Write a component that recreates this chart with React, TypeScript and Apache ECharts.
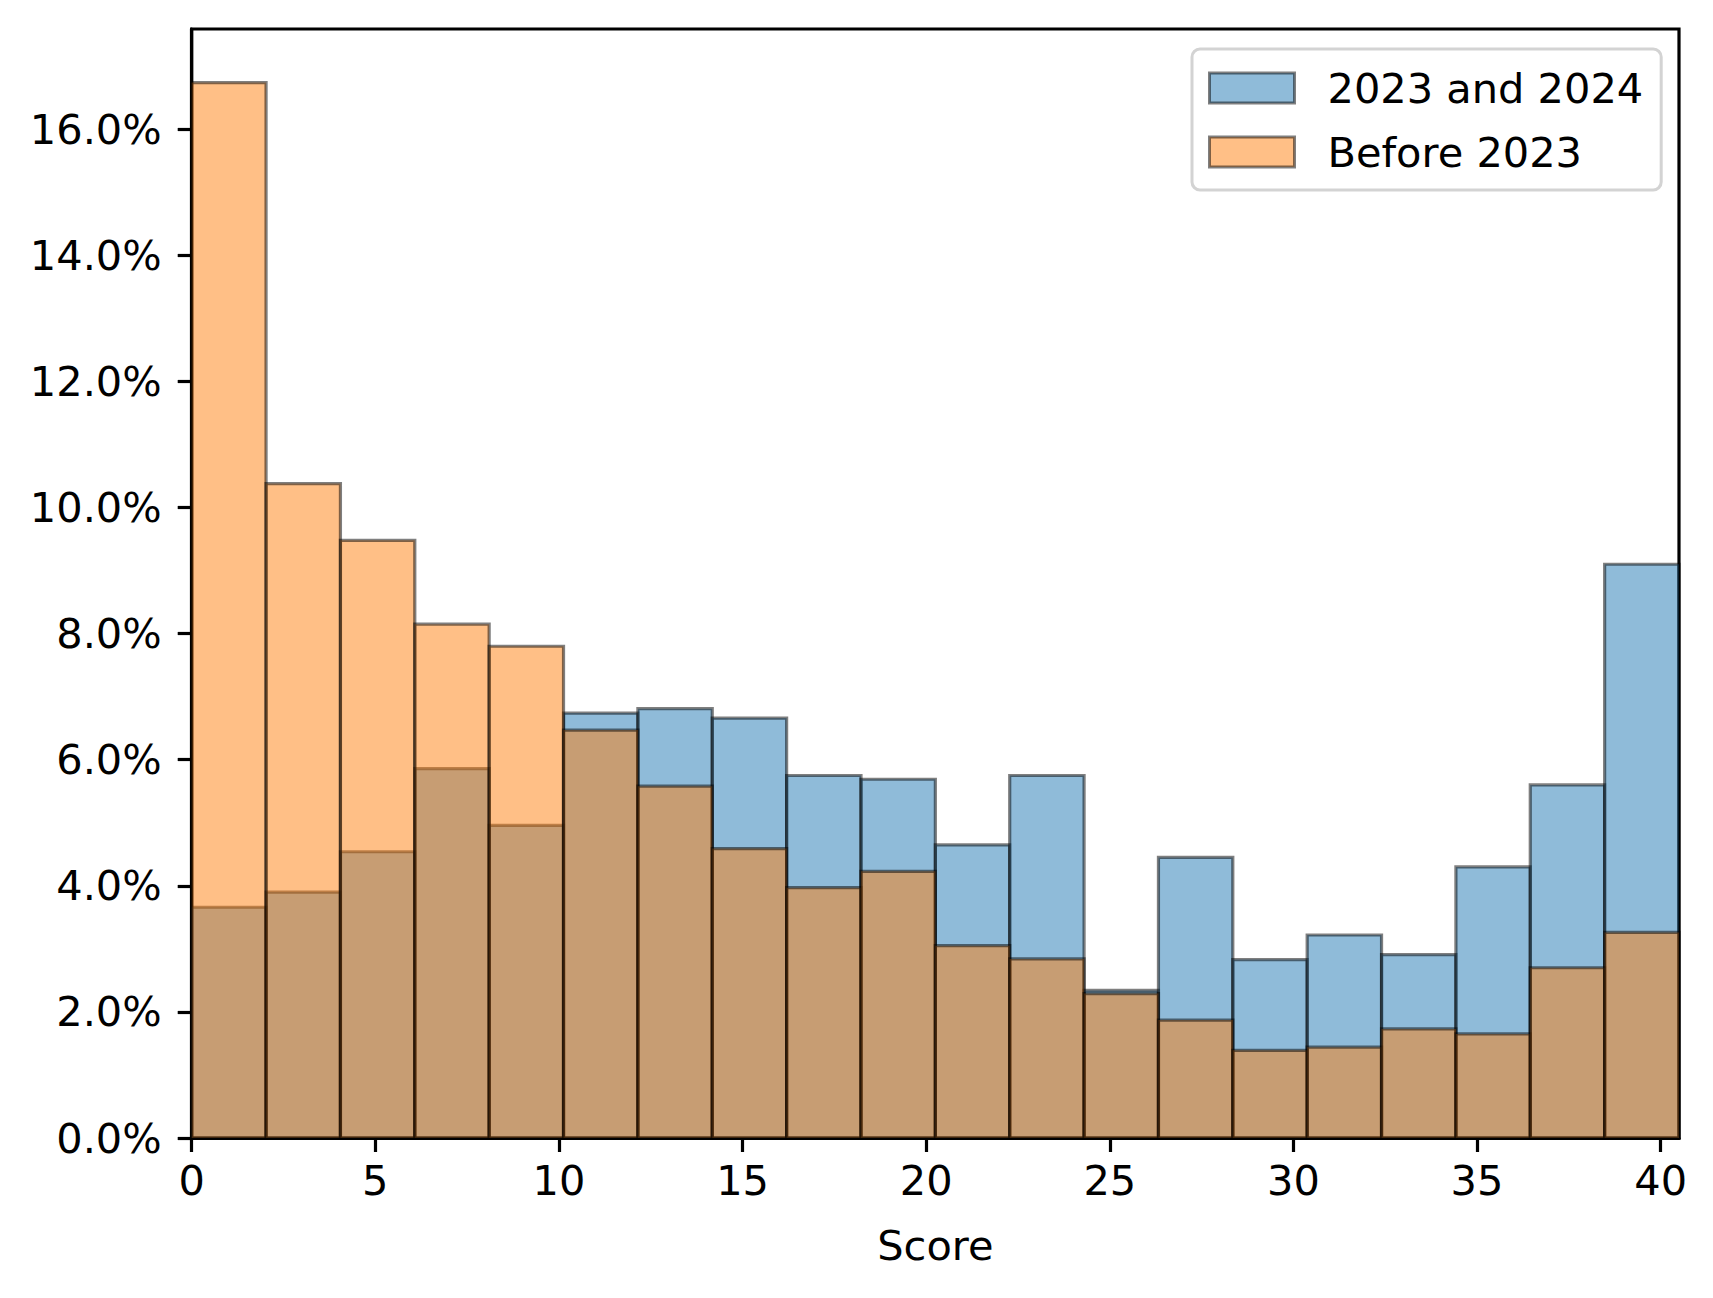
import React, { useEffect, useRef } from "react";
import * as echarts from "echarts";

const binEdges = [0, 2.025, 4.05, 6.075, 8.1, 10.125, 12.15, 14.175, 16.2, 18.225, 20.25, 22.275, 24.3, 26.325, 28.35, 30.375, 32.4, 34.425, 36.45, 38.475, 40.5];
const recentPct = [3.66, 3.9, 4.54, 5.86, 4.96, 6.74, 6.81, 6.66, 5.75, 5.69, 4.65, 5.75, 2.34, 4.45, 2.83, 3.22, 2.91, 4.3, 5.6, 9.1];
const beforePct = [16.74, 10.38, 9.48, 8.15, 7.8, 6.47, 5.58, 4.59, 3.97, 4.23, 3.05, 2.84, 2.29, 1.87, 1.39, 1.44, 1.73, 1.65, 2.7, 3.26];
const xTicks = [0, 5, 10, 15, 20, 25, 30, 35, 40];
const yTicks = [0, 2, 4, 6, 8, 10, 12, 14, 16];
const seriesNames = ["2023 and 2024", "Before 2023"];

const FONT = "DejaVu Sans";
const FS = 41.5;
const BLUE = "rgba(31,119,180,0.5)";
const ORANGE = "rgba(255,127,14,0.5)";
const EDGE = "rgba(0,0,0,0.5)";

function toData(vals: number[]) {
  return vals.map((v, i) => [binEdges[i], binEdges[i + 1], v]);
}

function makeRender(fill: string) {
  return (params: any, api: any) => {
    const p0 = api.coord([api.value(0), api.value(2)]);
    const p1 = api.coord([api.value(1), 0]);
    return {
      type: "rect",
      shape: { x: p0[0], y: p0[1], width: p1[0] - p0[0], height: p1[1] - p0[1] },
      style: { fill, stroke: EDGE, lineWidth: 3.2 },
    };
  };
}

export default function App() {
  const ref = useRef<HTMLDivElement>(null);
  useEffect(() => {
    document.body.style.margin = "0";
    const chart = echarts.init(ref.current!, null, { renderer: "svg" });
    chart.setOption({
      animation: false,
      backgroundColor: "#ffffff",
      textStyle: { fontFamily: FONT },
      grid: {
        left: 191.7,
        right: 34,
        top: 29,
        bottom: 160,
        containLabel: false,
        outerBoundsMode: "none",
        show: true,
        borderColor: "#000",
        borderWidth: 3.2,
        backgroundColor: "transparent",
      },
      legend: {
        orient: "vertical",
        left: 1192,
        top: 49,
        padding: [18, 18, 17, 16],
        itemGap: 22,
        itemWidth: 85,
        itemHeight: 30,
        backgroundColor: "#fff",
        borderColor: "#d3d3d3",
        borderWidth: 3,
        borderRadius: 8,
        textStyle: { fontFamily: FONT, fontSize: FS, color: "#000", padding: [0, 0, 0, 28], lineHeight: FS },
        data: [
          { name: seriesNames[0], icon: "rect", itemStyle: { color: BLUE, borderColor: EDGE, borderWidth: 3 } },
          { name: seriesNames[1], icon: "rect", itemStyle: { color: ORANGE, borderColor: EDGE, borderWidth: 3 } },
        ],
      },
      xAxis: {
        type: "value",
        min: 0,
        max: 40.5,
        name: "Score",
        nameLocation: "middle",
        nameGap: 86,
        nameTextStyle: { fontFamily: FONT, fontSize: FS, color: "#000" },
        axisLine: { show: true, lineStyle: { color: "#000", width: 3.2 } },
        axisTick: { show: true, length: 14, lineStyle: { color: "#000", width: 3.2 }, customValues: xTicks },
        axisLabel: { fontFamily: FONT, fontSize: FS, color: "#000", margin: 21, customValues: xTicks, formatter: (v: number) => String(v) },
        splitLine: { show: false },
      },
      yAxis: {
        type: "value",
        min: 0,
        max: 17.59,
        axisLine: { show: true, lineStyle: { color: "#000", width: 3.2 } },
        axisTick: { show: true, length: 14, lineStyle: { color: "#000", width: 3.2 }, customValues: yTicks },
        axisLabel: { fontFamily: FONT, fontSize: FS, color: "#000", margin: 30, customValues: yTicks, formatter: (v: number) => v.toFixed(1) + "%" },
        splitLine: { show: false },
      },
      series: [
        {
          type: "custom",
          name: seriesNames[0],
          renderItem: makeRender(BLUE),
          itemStyle: { color: BLUE, borderColor: EDGE, borderWidth: 3 },
          encode: { x: [0, 1], y: 2 },
          data: toData(recentPct),
          z: 2,
        },
        {
          type: "custom",
          name: seriesNames[1],
          renderItem: makeRender(ORANGE),
          itemStyle: { color: ORANGE, borderColor: EDGE, borderWidth: 3 },
          encode: { x: [0, 1], y: 2 },
          data: toData(beforePct),
          z: 3,
        },
      ],
    });
    return () => chart.dispose();
  }, []);
  return <div ref={ref} style={{ width: 1713, height: 1298 }} />;
}
